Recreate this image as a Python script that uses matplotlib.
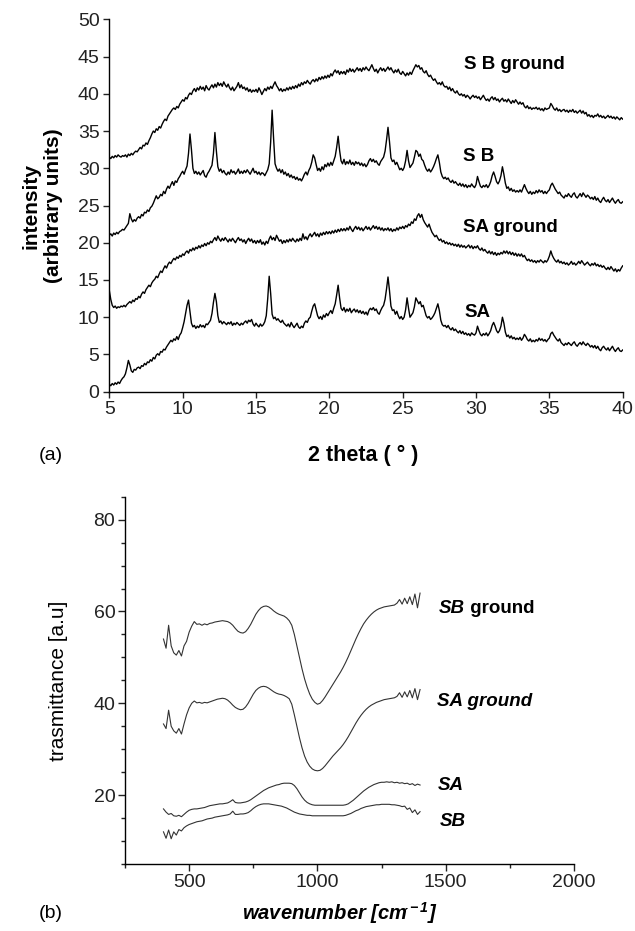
import numpy as np
import matplotlib
matplotlib.use("Agg")
import matplotlib.pyplot as plt
from matplotlib.ticker import MultipleLocator

plt.rcParams['font.family'] = ['Liberation Sans', 'DejaVu Sans']
plt.rcParams['mathtext.fontset'] = 'custom'
plt.rcParams['mathtext.rm'] = 'Liberation Sans:italic:bold'
plt.rcParams['mathtext.it'] = 'Liberation Sans:italic:bold'
plt.rcParams['mathtext.default'] = 'rm'

# ---------------- (a) XRD data: 2 theta 5..40, step 0.1 ----------------
two_theta = np.round(np.arange(50, 401) / 10.0, 1)

xrd_SA = [
    1.0, 0.8, 1.1, 0.9, 1.2, 1.0, 1.3, 1.1, 1.5, 1.8,
    2.0, 2.4, 3.2, 4.2, 3.6, 2.8, 2.6, 3.0, 2.9, 3.2,
    3.3, 3.1, 3.5, 3.4, 3.8, 3.6, 4.0, 3.9, 4.3, 4.1,
    4.6, 4.4, 4.9, 5.1, 4.9, 5.4, 5.3, 5.7, 5.6, 6.0,
    6.3, 6.6, 6.9, 6.7, 7.1, 6.9, 7.4, 7.0, 7.6, 7.9,
    8.6, 9.4, 10.5, 11.6, 12.3, 10.8, 9.2, 8.7, 8.9, 8.5,
    8.8, 8.6, 9.0, 8.7, 8.9, 8.6, 9.1, 9.0, 9.3, 9.6,
    10.5, 12.0, 13.2, 12.1, 10.2, 9.3, 9.5, 9.1, 9.4, 9.2,
    9.0, 9.3, 9.1, 9.4, 8.9, 9.2, 9.0, 9.3, 9.1, 8.9,
    9.2, 9.0, 9.3, 9.5, 9.2, 9.6, 9.4, 9.7, 9.1, 8.8,
    9.2, 8.9, 8.7, 9.1, 8.8, 9.0, 9.4, 10.2, 12.5, 15.5,
    13.2, 10.4, 9.8, 10.0, 9.6, 9.8, 9.5, 9.3, 9.6, 9.2,
    9.0, 8.8, 9.1, 8.7, 9.3, 8.9, 8.6, 8.9, 9.2, 8.7,
    8.5, 8.8, 8.6, 9.2, 9.5, 9.3, 9.8, 10.0, 10.8, 11.5,
    11.8, 11.0, 10.2, 9.8, 10.1, 9.7, 10.3, 10.0, 10.5, 10.2,
    10.6, 10.9, 10.5, 11.2, 11.8, 13.0, 14.3, 12.6, 11.2, 10.9,
    11.3, 10.7, 11.1, 10.8, 11.2, 10.6, 10.9, 11.1, 10.7, 11.0,
    10.6, 10.9, 10.5, 10.8, 10.4, 10.7, 10.3, 10.9, 11.2, 11.0,
    11.3, 10.9, 11.1, 10.6, 10.4, 10.9, 11.3, 11.6, 12.4, 13.8,
    15.4, 13.6, 11.5, 10.9, 11.0, 10.4, 10.8, 10.2, 9.8, 10.1,
    9.7, 10.0, 11.0, 12.6, 11.2, 10.0, 10.3, 10.6, 11.4, 12.6,
    12.2, 11.8, 12.1, 11.4, 11.6, 10.9, 10.2, 9.9, 10.1, 9.7,
    9.9, 10.2, 10.6, 11.2, 11.8, 10.9, 9.6, 9.0, 8.8, 8.9,
    8.6, 8.9, 8.5, 8.3, 8.6, 8.2, 8.4, 8.1, 7.9, 8.2,
    7.8, 8.1, 7.7, 7.9, 7.6, 7.8, 7.5, 7.9, 7.7, 7.6,
    7.9, 8.8, 8.2, 7.7, 7.5, 7.8, 7.6, 7.9, 7.5, 7.8,
    8.2, 8.9, 9.3, 8.8, 8.2, 7.9, 8.2, 8.8, 10.0, 9.2,
    8.0, 7.4, 7.6, 7.2, 7.5, 7.1, 7.3, 7.0, 7.2, 7.0,
    7.3, 6.9, 7.2, 7.7, 7.4, 7.0, 6.8, 7.1, 6.7, 6.9,
    6.7, 7.0, 6.8, 7.2, 6.9, 7.1, 6.8, 7.0, 6.7, 7.0,
    7.2, 7.8, 8.0, 7.6, 7.3, 7.0, 6.8, 7.1, 6.6, 6.4,
    6.2, 6.5, 6.3, 6.6, 6.4, 6.2, 6.5, 6.7, 6.3, 6.1,
    6.4, 6.6, 6.3, 6.7, 6.4, 6.2, 6.5, 6.3, 6.0, 6.2,
    5.9, 6.2, 5.8, 6.1, 5.7, 5.5, 5.9, 6.1, 5.8, 5.6,
    5.9, 5.5, 5.8, 6.1, 5.7, 5.4, 5.7, 5.9, 5.5, 5.4,
    5.6,
]

xrd_SB = [
    21.0, 21.2, 20.9, 21.3, 21.1, 21.4, 21.2, 21.5, 21.6, 21.8,
    21.7, 22.0, 22.3, 22.6, 23.9, 23.2, 22.8, 23.1, 22.9, 23.3,
    23.5, 23.3, 23.8, 23.6, 24.1, 24.0, 24.4, 24.2, 24.7, 24.9,
    25.3, 25.8, 26.3, 25.9, 26.1, 26.5, 26.3, 26.9, 26.6, 27.2,
    27.6, 27.3, 27.8, 28.2, 27.7, 28.3, 28.1, 28.6, 28.9, 29.3,
    29.6, 29.2, 29.8, 30.3, 32.0, 34.6, 32.5, 30.0, 29.3, 29.6,
    29.2, 29.5, 29.1, 29.4, 29.7, 29.0, 28.8, 29.3, 29.6, 30.0,
    30.4, 32.0, 34.8, 32.3, 30.2, 29.6, 29.9, 29.4, 29.7, 29.3,
    29.1, 29.5, 29.2, 29.8, 29.4, 29.6, 29.2, 29.5, 29.9, 29.3,
    29.6, 29.3, 29.7, 29.4, 29.8, 29.5, 29.2, 29.6, 30.0, 29.4,
    29.6, 29.2, 29.5, 29.1, 29.4, 29.3, 29.0, 29.4, 29.8, 30.6,
    33.5, 37.8, 34.0, 30.6, 30.0, 29.6, 29.9, 29.4, 29.8, 29.2,
    29.5, 29.0, 29.3, 28.8, 29.1, 28.7, 28.9, 28.5, 28.8, 28.4,
    28.6, 28.3, 28.7, 29.2, 29.5, 29.1, 29.7, 30.1, 30.8, 31.8,
    31.4, 30.5, 29.7, 30.0, 29.6, 30.2, 29.8, 30.5, 30.2, 30.7,
    30.3, 30.8, 30.4, 31.0, 31.6, 32.8, 34.3, 32.4, 31.0, 30.6,
    31.2, 30.5, 30.9, 30.6, 31.1, 30.5, 30.8, 30.4, 30.9, 30.6,
    30.8, 30.4, 30.7, 30.3, 30.6, 30.2, 30.5, 31.0, 31.3, 30.9,
    31.2, 30.8, 31.0, 30.6, 30.4, 30.9, 31.2, 31.5, 32.3, 33.8,
    35.5, 33.6, 31.4, 30.9, 31.1, 30.5, 30.8, 30.3, 29.8, 30.0,
    29.7, 30.1, 31.0, 32.4, 31.0, 30.1, 30.4, 30.7, 31.5, 32.4,
    32.2, 31.6, 31.9, 31.2, 31.0, 30.4, 29.9, 29.6, 29.9, 29.5,
    29.8, 30.2, 30.7, 31.3, 31.8, 30.8, 29.5, 28.9, 28.6, 28.8,
    28.5, 28.7, 28.3, 28.1, 28.4, 28.0, 28.2, 27.9, 27.7, 28.0,
    27.6, 27.9, 27.5, 27.8, 27.4, 27.7, 27.5, 27.9, 27.6, 27.4,
    27.8, 28.9, 28.2, 27.6, 27.4, 27.7, 27.5, 27.8, 27.4, 27.7,
    28.2, 29.0, 29.5, 28.9, 28.2, 27.9, 28.3, 29.0, 30.2, 29.2,
    28.0, 27.3, 27.5, 27.0, 27.3, 26.9, 27.1, 26.8, 27.0, 26.8,
    27.1, 26.8, 27.3, 27.8, 27.3, 26.9, 26.6, 26.9, 26.5, 26.8,
    26.6, 27.0, 26.7, 27.1, 26.8, 27.0, 26.6, 26.9, 26.6, 26.9,
    27.1, 27.7, 28.0, 27.6, 27.2, 26.9, 26.6, 26.8, 26.4, 26.2,
    26.0, 26.4, 26.2, 26.6, 26.3, 26.1, 26.5, 26.7, 26.2, 26.0,
    26.3, 26.6, 26.2, 26.7, 26.4, 26.1, 26.4, 26.2, 25.9, 26.1,
    25.8, 26.2, 25.7, 26.0, 25.6, 25.4, 25.8, 26.1, 25.7, 25.5,
    25.8, 25.4, 25.7, 26.0, 25.6, 25.3, 25.6, 25.8, 25.4, 25.3,
    25.5,
]

xrd_SB_ground = [
    31.5, 31.3, 31.6, 31.4, 31.7, 31.5, 31.8, 31.6, 31.5, 31.7,
    31.6, 31.8, 31.5, 31.9, 31.7, 32.0, 31.8, 32.1, 32.3, 32.2,
    32.5, 32.8, 32.6, 33.1, 33.0, 33.4, 33.2, 33.7, 34.1, 34.6,
    35.0, 34.8, 35.3, 35.1, 35.6, 35.4, 35.9, 36.3, 36.6, 36.4,
    37.0, 37.3, 37.6, 37.9, 38.1, 37.9, 38.3, 38.1, 38.6, 38.9,
    39.2, 39.0, 39.5, 39.3, 39.8, 40.1, 39.9, 40.4, 40.7, 40.3,
    40.8, 40.5, 41.0, 40.6, 40.9, 40.4, 41.1, 40.7, 40.5, 40.9,
    41.2, 40.8, 41.3, 40.9, 41.5, 41.1, 41.4, 41.0, 41.6, 41.2,
    40.9, 41.3, 40.8, 40.5, 40.9, 40.4, 40.7, 41.0, 41.5, 40.8,
    41.2, 40.7, 40.9, 40.5, 40.8, 40.3, 40.6, 40.2, 40.5, 40.3,
    40.6, 40.2, 40.8, 40.4, 39.9, 40.3, 40.7, 40.4, 40.9, 40.6,
    41.0, 40.7, 41.2, 41.6, 41.1, 40.8, 40.4, 40.7, 40.3, 40.6,
    40.4, 40.8, 40.5, 40.9, 40.6, 41.0, 40.7, 41.1, 40.8, 41.3,
    41.0, 41.5, 41.2, 41.6, 41.4, 41.8, 41.5, 41.3, 41.7, 41.9,
    41.6, 42.0, 41.7, 42.2, 41.9, 42.3, 42.0, 42.4, 42.1, 42.5,
    42.2, 42.7, 42.4, 42.9, 43.2, 42.8, 43.1, 42.6, 43.0, 42.7,
    43.0, 42.6, 43.2, 42.9, 43.4, 43.0, 43.3, 42.9, 43.2, 43.5,
    43.1, 43.4, 43.0, 43.5, 43.2, 43.6, 43.3, 43.1, 43.5, 43.9,
    43.4, 43.0, 43.3, 42.8, 43.2, 43.5, 43.1, 43.4, 43.0, 43.3,
    43.6, 43.2, 43.5, 43.1, 42.8, 43.2, 42.9, 43.3, 42.8, 42.6,
    43.0, 42.7, 42.4, 42.8, 42.5, 42.9, 42.6, 43.1, 43.5, 43.9,
    43.6, 43.8, 43.3, 43.5, 43.0, 42.8, 43.1, 42.6, 42.3, 42.5,
    42.1, 41.8, 42.0, 41.6, 41.3, 41.5, 41.2, 41.6, 41.1, 40.9,
    41.0, 40.6, 40.9, 40.4, 40.7, 40.3, 40.1, 40.4, 40.0, 39.8,
    40.0, 39.7, 39.9, 39.5, 39.8, 39.6, 39.3, 39.6, 39.8, 39.5,
    39.7, 39.4, 39.6, 39.2, 39.5, 39.8, 39.4, 39.1, 39.3, 39.0,
    39.4, 39.6, 39.2, 39.5, 39.1, 39.3, 38.9, 39.2, 39.4, 39.0,
    39.2, 38.9, 39.3, 39.0, 38.7, 39.1, 38.8, 39.2, 38.9, 38.6,
    38.9, 38.6, 38.8, 38.3, 38.1, 38.4, 38.0, 38.2, 37.9, 38.1,
    38.0, 38.2, 37.9, 38.1, 37.8, 38.0, 37.7, 38.1, 37.9, 38.0,
    38.1, 38.7, 38.4, 38.0, 37.8, 38.1, 37.7, 37.9, 37.6, 37.8,
    37.9, 37.6, 37.8, 37.5, 37.8, 37.6, 37.9, 37.5, 37.7, 37.4,
    37.6, 37.8, 37.4, 37.7, 37.3, 37.5, 37.0, 37.2, 36.9, 37.1,
    36.8, 37.1, 37.0, 37.3, 36.9, 37.1, 36.8, 37.0, 36.7, 36.9,
    37.1, 36.8, 37.0, 36.7, 36.9, 36.6, 36.9, 36.7, 36.5, 36.8,
    36.6,
]

xrd_SA_ground = [
    13.6, 12.4, 11.6, 11.3, 11.5, 11.2, 11.4, 11.3, 11.5, 11.4,
    11.6, 11.4, 11.7, 11.9, 12.1, 11.9, 12.3, 12.1, 12.5, 12.4,
    12.8, 12.6, 13.1, 13.4, 13.2, 13.7, 14.0, 14.3, 14.1, 14.6,
    14.9, 15.1, 15.5, 15.3, 15.8, 16.2, 16.0, 16.5, 16.9, 16.6,
    17.1, 17.4, 17.2, 17.6, 17.9, 17.7, 18.1, 17.9, 18.3, 18.1,
    18.5, 18.3, 18.7, 18.9, 18.6, 19.1, 18.9, 19.3, 19.0, 19.4,
    19.2, 19.6, 19.3, 19.7, 19.5, 19.9, 19.6, 20.0, 19.8, 20.2,
    20.0, 20.4, 20.7, 20.3, 20.9, 20.5, 20.2, 20.6, 20.3, 20.7,
    20.4, 20.1, 20.5, 20.2, 20.6, 20.3, 20.0, 20.4, 20.7, 20.3,
    20.5, 20.1, 20.4, 19.9, 20.3, 20.6, 20.2, 20.5, 20.0, 20.3,
    19.9, 20.3, 20.0, 20.4, 19.8, 20.1, 19.7, 20.2, 19.9, 20.5,
    20.9, 20.4, 20.7, 20.3, 21.0, 20.6, 20.2, 20.4, 19.9, 20.3,
    20.0, 20.4, 20.1, 20.5, 20.2, 20.6, 20.3, 20.1, 20.5, 20.2,
    20.6, 20.3, 21.2, 20.5, 20.8, 20.4, 20.9, 21.2, 20.8, 21.1,
    21.4, 20.9, 21.2, 20.8, 21.3, 21.0, 21.4, 21.1, 21.5, 21.2,
    21.5, 21.2, 21.6, 21.3, 21.7, 21.4, 21.8, 21.5, 21.9, 21.6,
    21.9, 21.6, 22.0, 21.7, 22.2, 21.8, 21.5, 21.9, 22.2, 21.8,
    22.1, 21.7, 22.0, 21.6, 21.9, 22.2, 21.8, 22.1, 21.7, 22.0,
    22.3, 21.9, 22.2, 21.8, 22.1, 21.7, 22.0, 21.6, 21.9, 21.7,
    22.0, 21.6, 21.9, 21.5, 21.8, 21.6, 22.0, 21.7, 22.1, 21.9,
    22.2, 21.9, 22.3, 22.1, 22.5, 22.3, 22.8, 22.6, 23.2, 23.0,
    23.6, 23.9, 23.4, 23.8, 23.1, 22.7, 22.4, 22.1, 22.5, 21.9,
    21.4, 21.1, 20.8, 21.0, 20.6, 20.3, 20.5, 20.1, 20.3, 19.9,
    20.1, 19.8, 20.0, 19.7, 19.9, 19.6, 19.8, 19.5, 19.8, 19.4,
    19.7, 19.4, 19.6, 19.3, 19.5, 19.7, 19.3, 19.6, 19.2, 19.5,
    19.3, 19.6, 19.2, 19.0, 19.3, 18.9, 19.1, 18.8, 18.6, 18.9,
    18.5, 18.8, 18.4, 18.7, 18.3, 18.6, 18.4, 18.7, 18.5, 18.9,
    18.6, 18.9, 18.5, 18.8, 18.4, 18.7, 18.3, 18.6, 18.2, 18.5,
    18.2, 18.5, 18.1, 18.3, 17.9, 17.6, 17.8, 17.5, 17.7, 17.4,
    17.6, 17.3, 17.6, 17.4, 17.7, 17.5, 17.3, 17.6, 17.4, 17.7,
    18.2, 18.9, 18.3, 17.9, 17.6, 17.4, 17.7, 17.3, 17.5, 17.2,
    17.4, 17.1, 17.3, 17.0, 17.2, 17.5, 17.1, 17.3, 17.0, 17.2,
    17.5, 17.2, 17.6, 17.3, 17.0, 17.2, 17.4, 17.1, 16.9, 17.2,
    17.0, 17.3, 16.9, 17.1, 16.8, 17.0, 16.7, 16.9, 16.6, 16.4,
    16.7, 16.4, 16.8, 16.5, 16.2, 16.5, 16.1, 16.4, 16.2, 16.6,
    16.9,
]

xrd_labels = ["S B ground", "S B", "SA ground", "SA"]
xrd_label_pos = [(29.2, 43.9), (29.1, 31.6), (29.1, 22.1), (29.2, 10.7)]

# ---------------- (b) FTIR data: 400..1400 cm-1, step 10 ----------------
wavenumber = np.arange(400, 1401, 10)

ir_SB_ground = [
    54.0, 52.0, 57.0, 52.5, 51.0, 50.5, 51.5, 50.3, 52.5, 53.5,
    55.5, 56.8, 57.8, 57.2, 57.3, 57.0, 57.3, 57.1, 57.4, 57.5,
    57.7, 57.8, 57.9, 58.0, 57.9, 57.8, 57.5, 57.0, 56.3, 55.7,
    55.4, 55.3, 55.6, 56.3, 57.2, 58.3, 59.4, 60.2, 60.8, 61.1,
    61.2, 61.0, 60.6, 60.1, 59.7, 59.4, 59.2, 59.0, 58.6, 58.0,
    57.0, 55.0, 52.5, 50.0, 47.5, 45.3, 43.5, 42.0, 40.9, 40.2,
    39.8, 40.0, 40.6, 41.4, 42.3, 43.2, 44.1, 45.0, 45.9, 46.8,
    47.8, 48.9, 50.1, 51.4, 52.7, 54.0, 55.2, 56.3, 57.3, 58.1,
    58.8, 59.4, 59.9, 60.3, 60.6, 60.8, 61.0, 61.1, 61.2, 61.3,
    61.4, 61.8, 62.6, 61.6, 62.9, 61.7, 63.2, 61.5, 63.8, 60.8,
    64.0,
]

ir_SA_ground = [
    35.5, 34.5, 38.5, 35.0, 34.0, 33.5, 34.5, 33.3, 35.5, 37.5,
    39.0, 40.0, 40.5, 40.1, 40.2, 40.0, 40.2, 40.1, 40.3, 40.5,
    40.7, 40.9, 41.0, 41.1, 41.0, 40.7, 40.2, 39.6, 39.1, 38.8,
    38.6, 38.7, 39.2, 40.0, 41.0, 42.0, 42.8, 43.3, 43.6, 43.7,
    43.6, 43.3, 42.9, 42.5, 42.2, 42.0, 41.9, 41.7, 41.4, 41.0,
    39.8, 37.5, 35.0, 32.5, 30.3, 28.5, 27.2, 26.3, 25.7, 25.4,
    25.3, 25.4, 25.8, 26.4, 27.1, 27.8, 28.5, 29.1, 29.7, 30.3,
    31.0, 31.8, 32.7, 33.7, 34.7, 35.7, 36.6, 37.4, 38.1, 38.7,
    39.2, 39.6, 39.9, 40.2, 40.4, 40.6, 40.8, 40.9, 41.0, 41.1,
    41.2, 41.5, 42.3, 41.3, 42.5, 41.4, 42.8, 41.2, 43.2, 40.8,
    43.0,
]

ir_SA = [
    17.0, 16.3, 15.8, 16.0, 15.5, 15.4, 15.6, 15.3, 15.8, 16.3,
    16.7, 16.9, 17.0, 17.0, 17.1, 17.2, 17.3, 17.5, 17.7, 17.8,
    17.9, 18.0, 18.1, 18.1, 18.2, 18.3, 18.6, 19.0, 18.4, 18.3,
    18.3, 18.4, 18.5, 18.7, 19.0, 19.4, 19.8, 20.2, 20.6, 21.0,
    21.3, 21.6, 21.8, 22.0, 22.2, 22.3, 22.5, 22.6, 22.6, 22.6,
    22.5, 22.1, 21.4, 20.5, 19.6, 18.9, 18.4, 18.1, 17.9, 17.8,
    17.8, 17.8, 17.8, 17.8, 17.8, 17.8, 17.8, 17.8, 17.8, 17.8,
    17.8, 17.9, 18.1, 18.5, 18.9, 19.4, 19.9, 20.4, 20.9, 21.3,
    21.7, 22.0, 22.3, 22.5, 22.7, 22.8, 22.8, 22.9, 22.8, 22.9,
    22.7, 22.8, 22.6, 22.7, 22.5, 22.6, 22.3, 22.5, 22.1, 22.4,
    22.2,
]

ir_SB = [
    12.0, 10.6, 12.4, 10.5, 12.0, 11.3, 12.5, 12.2, 12.9, 13.3,
    13.6, 13.8, 14.0, 14.2, 14.3, 14.4, 14.6, 14.8, 14.9, 15.0,
    15.2, 15.3, 15.4, 15.5, 15.6, 15.7, 15.9, 16.5, 15.8, 15.8,
    15.9, 15.9, 16.0, 16.2, 16.6, 17.1, 17.5, 17.8, 18.0, 18.1,
    18.1, 18.1, 18.0, 17.9, 17.8, 17.7, 17.6, 17.4, 17.2, 16.9,
    16.6, 16.3, 16.1, 15.9, 15.8, 15.7, 15.6, 15.6, 15.5, 15.5,
    15.5, 15.5, 15.5, 15.5, 15.5, 15.5, 15.5, 15.5, 15.5, 15.5,
    15.5, 15.6, 15.8, 16.0, 16.3, 16.6, 16.8, 17.1, 17.3, 17.5,
    17.6, 17.7, 17.8, 17.9, 17.9, 18.0, 18.0, 18.0, 18.0, 17.9,
    17.9, 17.8, 17.7, 17.5, 17.6, 16.9, 17.2, 16.2, 16.8, 15.8,
    16.4,
]

# ---------------- figure ----------------
fig = plt.figure(figsize=(6.35, 9.31), dpi=100)

W, H = 635.0, 931.0
def rect(l, t, r, b):
    return [l / W, 1 - b / H, (r - l) / W, (b - t) / H]

tick_color = '#222222'
TL = 14

# ---- panel (a)
ax1 = fig.add_axes(rect(109.3, 19.3, 622.7, 391.7))
for y in (xrd_SB_ground, xrd_SB, xrd_SA_ground, xrd_SA):
    ax1.plot(two_theta, y, color='black', lw=1.0)
ax1.set_xlim(5, 40)
ax1.set_ylim(0, 50)
ax1.xaxis.set_major_locator(MultipleLocator(5))
ax1.yaxis.set_major_locator(MultipleLocator(5))
for s in ('top', 'right'):
    ax1.spines[s].set_visible(False)
for s in ('left', 'bottom'):
    ax1.spines[s].set_linewidth(1.0)
ax1.tick_params(direction='out', length=4, width=1.0, labelsize=TL,
                pad=3, colors=tick_color, labelcolor=tick_color)
for txt, (x, y) in zip(xrd_labels, xrd_label_pos):
    ax1.text(x, y, txt, fontsize=13.5, fontweight='bold', ha='left', va='center')
ax1.set_ylabel('intensity\n(arbitrary units)', fontsize=15, fontweight='bold',
               linespacing=1.25)
ax1.yaxis.set_label_coords((63 - 109.3) / 513.4, 0.5)
fig.text(363 / W, 1 - 455 / H, '2 theta ( \u00b0 )', fontsize=15.5, fontweight='bold',
         ha='center', va='center')
fig.text(51 / W, 1 - 455 / H, '(a)', fontsize=14, ha='center', va='center')

# ---- panel (b)
ax2 = fig.add_axes(rect(125, 496.7, 574, 864))
lc = '#333333'
for y in (ir_SB_ground, ir_SA_ground, ir_SA, ir_SB):
    ax2.plot(wavenumber, y, color=lc, lw=0.8)
ax2.set_xlim(250, 2000)
ax2.set_ylim(5, 85)
ax2.xaxis.set_major_locator(MultipleLocator(500))
ax2.xaxis.set_minor_locator(MultipleLocator(250))
ax2.yaxis.set_major_locator(MultipleLocator(20))
ax2.yaxis.set_minor_locator(MultipleLocator(5))
for s in ('top', 'right'):
    ax2.spines[s].set_visible(False)
for s in ('left', 'bottom'):
    ax2.spines[s].set_linewidth(1.0)
ax2.tick_params(which='major', direction='out', length=5, width=1.0, labelsize=TL,
                pad=2, colors=tick_color, labelcolor=tick_color)
ax2.tick_params(which='minor', direction='out', length=3, width=1.0, colors=tick_color)

t1 = ax2.text(1473, 60.7, 'SB', fontsize=13.5, fontweight='bold', style='italic',
              ha='left', va='center')
ax2.annotate(' ground', xy=(1, 0.5), xycoords=t1, fontsize=13.5, fontweight='bold',
             ha='left', va='center')
ax2.text(1465, 40.3, 'SA ground', fontsize=13.5, fontweight='bold', style='italic',
         ha='left', va='center')
ax2.text(1468, 22.2, 'SA', fontsize=13.5, fontweight='bold', style='italic',
         ha='left', va='center')
ax2.text(1478, 14.2, 'SB', fontsize=13.5, fontweight='bold', style='italic',
         ha='left', va='center')

ax2.set_ylabel('trasmittance [a.u]', fontsize=15)
ax2.yaxis.set_label_coords((68 - 125) / 449.0, 0.5)
fig.text(340 / W, 1 - 913 / H, 'wavenumber [cm$^{\\acute{}-1}$]', fontsize=14.5,
         fontweight='bold', style='italic', ha='center', va='center')
fig.text(51 / W, 1 - 913 / H, '(b)', fontsize=14, ha='center', va='center')

fig.savefig('out.png', dpi=100)
